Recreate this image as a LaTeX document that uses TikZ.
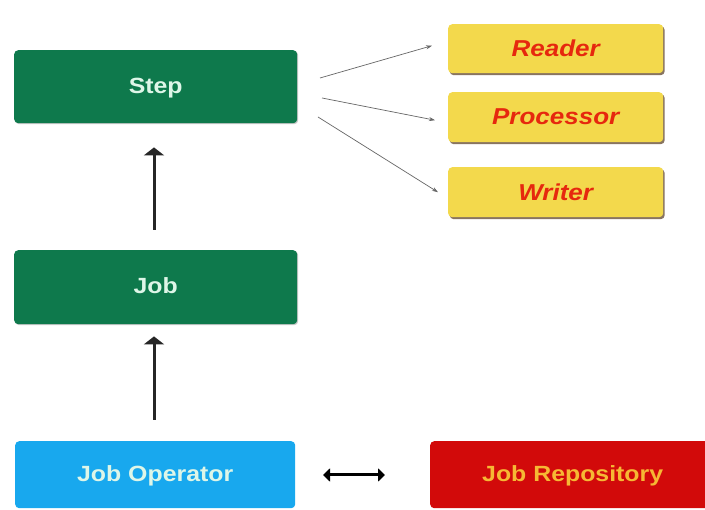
\documentclass[tikz,border=0pt]{standalone}
\usepackage{fontspec}
\setmainfont{Liberation Sans}[FakeStretch=1.13]
\usetikzlibrary{arrows.meta,shadows}
\definecolor{stepgreen}{RGB}{14,121,76}
\definecolor{mint}{RGB}{222,246,232}
\definecolor{partyellow}{RGB}{243,217,76}
\definecolor{partred}{RGB}{230,40,14}
\definecolor{opblue}{RGB}{24,168,238}
\definecolor{repored}{RGB}{210,10,10}
\definecolor{repotext}{RGB}{246,184,52}
\begin{document}
\begin{tikzpicture}[x=1pt,y=-1pt,
  box/.style={rounded corners=4pt, inner sep=0pt, anchor=north west},
  labelfont/.style={font=\bfseries\fontsize{22}{24}\selectfont, text height=16pt, text depth=3pt},
  greenbox/.style={box, labelfont, fill=stepgreen, text=mint,
    drop shadow={shadow xshift=1pt, shadow yshift=-1pt, fill=black!35, opacity=0.6}},
  partbox/.style={box, font=\bfseries\itshape\fontsize{23}{25}\selectfont, fill=partyellow, text=partred,
    drop shadow={shadow xshift=1.5pt, shadow yshift=-2pt, fill=black!55!brown, opacity=0.7}},
  link/.style={draw=black!60, line width=0.7pt, -{Stealth[length=6pt,width=4pt]}},
  upline/.style={draw=black!85, line width=3pt, -{Triangle[length=8pt,width=20pt]}},
  bothline/.style={draw=black, line width=3pt, {Triangle[length=7pt,width=13pt]}-{Triangle[length=7pt,width=13pt]}}
]
\useasboundingbox (0,0) rectangle (705,510);
\fill[white] (0,0) rectangle (705,510);

% core chain
\node[greenbox, minimum width=283pt, minimum height=73pt] (step) at (14,50) {Step};
\node[greenbox, minimum width=283pt, minimum height=74pt] (job) at (14,250) {Job};
\node[box, labelfont, fill=opblue, text=mint,
  minimum width=280pt, minimum height=67pt] (oper) at (15,441) {Job Operator};
\node[box, labelfont, fill=repored, text=repotext,
  minimum width=285pt, minimum height=67pt] (repo) at (430,441) {Job Repository};

% step parts
\node[partbox, minimum width=215pt, minimum height=49pt] (reader) at (448,24) {Reader};
\node[partbox, minimum width=215pt, minimum height=50pt] (proc) at (448,92) {Processor};
\node[partbox, minimum width=215pt, minimum height=50pt] (writer) at (448,167) {Writer};

% connectors
\coordinate (s1) at (320,78);
\coordinate (s2) at (322,98);
\coordinate (s3) at (318,117);
\draw[link] (s1) -- ([xshift=-16pt,yshift=3pt]reader.west);
\draw[link] (s2) -- ([xshift=-13pt,yshift=-3pt]proc.west);
\draw[link] (s3) -- ([xshift=-10pt]writer.west);

\coordinate (a1) at (154,230);
\coordinate (a2) at (154,420);
\draw[upline] (a1) -- ([yshift=-24pt]step.south -| a1);
\draw[upline] (a2) -- ([yshift=-12pt]job.south -| a2);

\coordinate (d1) at (323,475);
\coordinate (d2) at (385,475);
\draw[bothline] (d1) -- (d2);
\end{tikzpicture}
\end{document}
